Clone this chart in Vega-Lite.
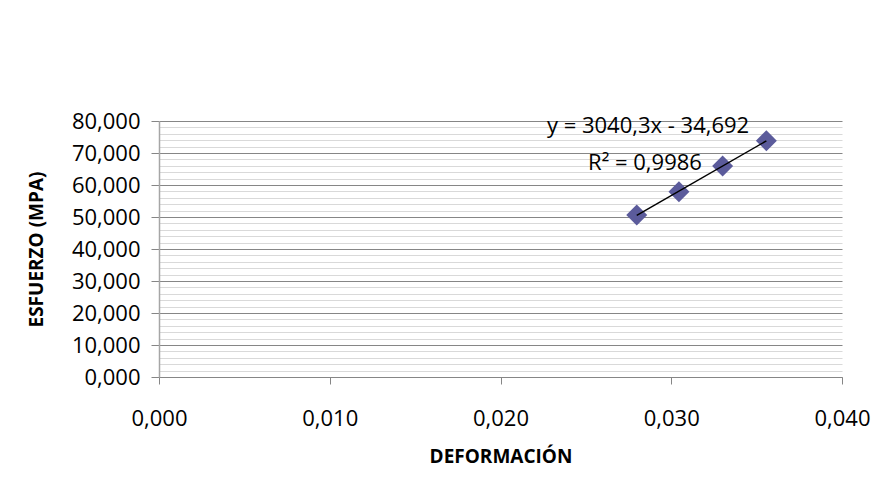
{
  "$schema": "https://vega.github.io/schema/vega-lite/v6.json",
  "width": 683,
  "height": 256,
  "autosize": {"type": "none"},
  "padding": {"left": 159, "top": 121, "right": 39, "bottom": 112},
  "background": "white",
  "config": {
    "locale": {"number": {"decimal": ",", "thousands": ".", "grouping": [3], "currency": ["", ""]}},
    "view": {"stroke": null},
    "font": "Open Sans"
  },
  "datasets": {
    "points": [
      {"deformacion": 0.02798, "esfuerzo": 50.63},
      {"deformacion": 0.03045, "esfuerzo": 57.9},
      {"deformacion": 0.03301, "esfuerzo": 65.94},
      {"deformacion": 0.03557, "esfuerzo": 73.84}
    ],
    "notes": [
      {"deformacion": 0.02864, "esfuerzo": 78.4, "label": "y = 3040,3x - 34,692"},
      {"deformacion": 0.02846, "esfuerzo": 66.9, "label": "R² = 0,9986"}
    ]
  },
  "layer": [
    {
      "data": {"name": "points"},
      "mark": {"type": "point", "shape": "diamond", "filled": true, "size": 440, "color": "#5b5b9b", "opacity": 1},
      "encoding": {
        "x": {
          "field": "deformacion", "type": "quantitative",
          "scale": {"domain": [0, 0.04], "nice": false, "zero": false},
          "axis": {
            "values": [0, 0.01, 0.02, 0.03, 0.04],
            "tickCount": 10,
            "format": ".3f",
            "grid": false,
            "tickSize": 7,
            "tickColor": "#868686",
            "domainColor": "#868686",
            "labelPadding": 24,
            "labelFont": "Open Sans",
            "labelFontSize": 22,
            "labelColor": "black",
            "labelFlush": false,
            "labelOverlap": false,
            "title": "DEFORMACIÓN",
            "titleFont": "Open Sans",
            "titleFontSize": 19,
            "titleFontWeight": "bold",
            "titleColor": "black",
            "titlePadding": 18
          }
        },
        "y": {
          "field": "esfuerzo", "type": "quantitative",
          "scale": {"domain": [0, 80], "nice": false, "zero": true},
          "axis": {
            "values": [0, 2, 4, 6, 8, 10, 12, 14, 16, 18, 20, 22, 24, 26, 28, 30, 32, 34, 36, 38, 40, 42, 44, 46, 48, 50, 52, 54, 56, 58, 60, 62, 64, 66, 68, 70, 72, 74, 76, 78, 80],
            "tickCount": 100,
            "format": ".3f",
            "labelExpr": "datum.value % 10 === 0 ? datum.label : ''",
            "gridColor": {"condition": {"test": "datum.value % 10 === 0", "value": "#868686"}, "value": "#d9d9d9"},
            "tickOpacity": {"condition": {"test": "datum.value % 10 === 0", "value": 1}, "value": 0},
            "tickColor": "#868686",
            "tickSize": 8,
            "domainColor": "#a6a6a6",
            "domainWidth": 1.5,
            "labelPadding": 11,
            "labelFont": "Open Sans",
            "labelFontSize": 22,
            "labelColor": "black",
            "labelOverlap": false,
            "title": "ESFUERZO (MPA)",
            "titleFont": "Open Sans",
            "titleFontSize": 19,
            "titleFontWeight": "bold",
            "titleColor": "black",
            "titlePadding": 25
          }
        }
      }
    },
    {
      "data": {"name": "points"},
      "transform": [{"regression": "esfuerzo", "on": "deformacion"}],
      "mark": {"type": "line", "color": "black", "strokeWidth": 1.5},
      "encoding": {
        "x": {"field": "deformacion", "type": "quantitative"},
        "y": {"field": "esfuerzo", "type": "quantitative"}
      }
    },
    {
      "data": {"name": "notes"},
      "mark": {"type": "text", "font": "Open Sans", "fontSize": 22, "color": "black", "align": "center", "baseline": "middle"},
      "encoding": {
        "x": {"field": "deformacion", "type": "quantitative"},
        "y": {"field": "esfuerzo", "type": "quantitative"},
        "text": {"field": "label"}
      }
    }
  ]
}
